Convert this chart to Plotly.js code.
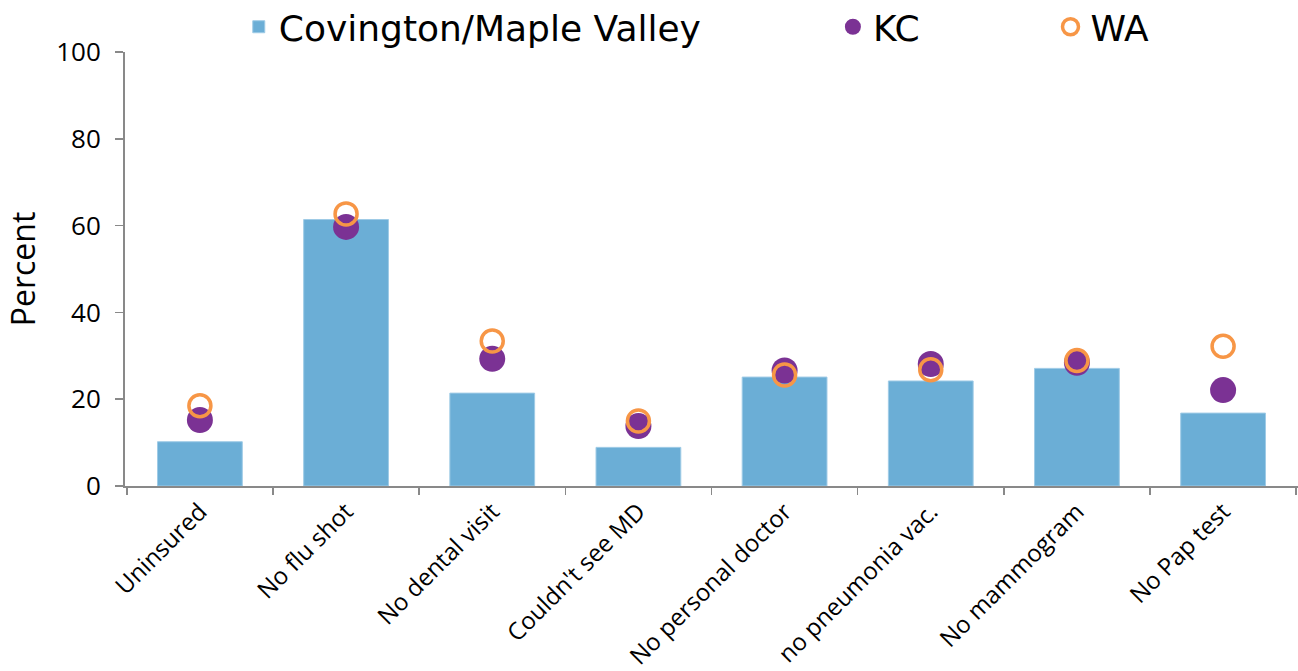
<!DOCTYPE html>
<html>
<head>
<meta charset="utf-8">
<script src="https://cdn.plot.ly/plotly-3.0.1.min.js"></script>
<style>html,body{margin:0;padding:0;background:#fff;}#chart{width:1298px;height:671px;}</style>
</head>
<body>
<div id="chart"></div>
<script>
const categories = ["Uninsured", "No flu shot", "No dental visit", "Couldn't see MD", "No personal doctor", "no pneumonia vac.", "No mammogram", "No Pap test"];
const covingtonValues = [10.2, 61.4, 21.4, 8.9, 25.1, 24.2, 27.1, 16.8];
const kcValues = [15.2, 59.7, 29.3, 13.8, 26.6, 28.1, 28.4, 22.1];
const waValues = [18.5, 62.7, 33.4, 15.0, 25.6, 26.8, 28.9, 32.2];

const traces = [
  {
    type: "bar", name: "Covington/Maple Valley", x: categories, y: covingtonValues,
    marker: {color: "#6BAED6", line: {color: "#9FCBE6", width: 1}}, width: 0.58,
    legend: "legend"
  },
  {
    type: "scatter", mode: "markers", name: "KC", x: categories, y: kcValues,
    marker: {color: "#7B3294", size: 26}, legend: "legend2"
  },
  {
    type: "scatter", mode: "markers", name: "WA", x: categories, y: waValues,
    marker: {color: "rgba(0,0,0,0)", size: 22, line: {color: "#F79646", width: 3.5}}, legend: "legend3"
  }
];

const legendFont = {family: "DejaVu Sans, sans-serif", size: 36, color: "#000"};
function legendAt(x) {
  return {orientation: "h", x: x, xanchor: "left", xref: "paper", y: 0.96, yanchor: "middle", yref: "container",
          font: legendFont, bgcolor: "rgba(0,0,0,0)"};
}
const layout = {
  width: 1298, height: 671,
  margin: {l: 125, r: 0, t: 52, b: 185, autoexpand: false},
  paper_bgcolor: "#fff", plot_bgcolor: "#fff",
  font: {family: "Open Sans, sans-serif", color: "#000"},
  showlegend: true,
  legend: legendAt(0.097),
  legend2: legendAt(0.6035),
  legend3: legendAt(0.789),
  xaxis: {
    type: "category", showline: true, linecolor: "#898989", linewidth: 2,
    ticks: "outside", tickson: "boundaries", ticklen: 7, tickcolor: "#898989", tickwidth: 1.5,
    tickangle: -45, tickfont: {family: "Open Sans, sans-serif", size: 24, color: "#000"},
    showgrid: false, zeroline: false, automargin: false
  },
  yaxis: {
    range: [0, 100], dtick: 20, showline: true, linecolor: "#898989", linewidth: 2,
    ticks: "outside", ticklen: 8, tickcolor: "#898989", tickwidth: 1.5,
    ticklabelstandoff: 9,
    tickfont: {family: "Open Sans, sans-serif", size: 26, color: "#000"},
    showgrid: false, zeroline: false, automargin: false,
    title: {text: "Percent", font: {family: "Open Sans, sans-serif", size: 32, color: "#000"}, standoff: 11}
  }
};

Plotly.newPlot("chart", traces, layout, {displayModeBar: false, staticPlot: true});
</script>
</body>
</html>
